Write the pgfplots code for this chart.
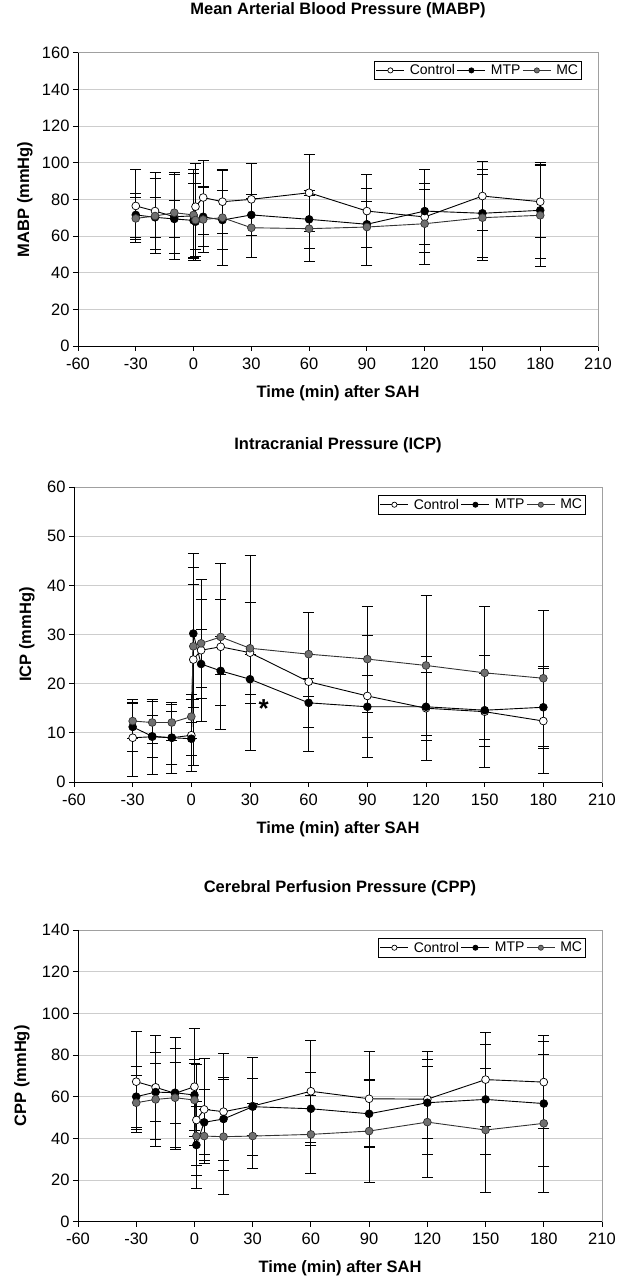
\documentclass[border=0pt]{standalone}
\usepackage{fontspec}
\setmainfont{Liberation Sans}
\usepackage{pgfplots}
\usepackage{pgfplotstable}
\pgfplotsset{compat=1.18}

\definecolor{mcgray}{RGB}{112,112,112}
\definecolor{gridgray}{RGB}{205,205,205}
\definecolor{boxgray}{RGB}{160,160,160}

% MABP
\pgfplotstableread{
t v e
-30 76.4 20
-20 73.6 21
-10 70.5 23
0 71 23
1 76 23.5
5 81 20
15 78.7 17.5
30 80 19.5
60 83.6 21
90 73.6 20
120 70.4 15
150 81.8 19
180 78.7 19.7
}\mabpctrl
\pgfplotstableread{
t v e
-30 71.5 12
-20 70.2 11
-10 69.3 10
0 68.5 20
1 67.8 21
5 70.5 16
15 68.7 16
30 71.5 11
60 69.1 16
90 66.4 12.5
120 73.6 22.5
150 72.4 24
180 74 26
}\mabpmtp
\pgfplotstableread{
t v e
-30 69.6 11.5
-20 70.9 20.5
-10 72.7 22
0 71.5 25
1 68.7 20
5 69 18
15 70 26
30 64.5 16
60 64 18
90 64.9 21
120 66.7 22
150 70 23.5
180 71.3 28
}\mabpmc
% ICP
\pgfplotstableread{
t v e
-30 9.0 7.8
-20 9.2 7.6
-10 9.0 7.2
0 9.5 7.4
1 24.9 21.5
5 26.8 14.5
15 27.5 16.9
30 26.3 19.8
60 20.4 14.1
90 17.5 12.4
120 15.0 10.6
150 14.3 11.4
180 12.4 10.7
}\icpctrl
\pgfplotstableread{
t v e
-30 11.2 4.9
-20 9.3 4.2
-10 9.0 5.4
0 8.8 3.4
1 30.2 13.5
5 24.0 7
15 22.6 7
30 20.9 5
60 16.1 4.9
90 15.3 6.3
120 15.3 6.9
150 14.6 7.4
180 15.2 8.3
}\icpmtp
\pgfplotstableread{
t v e
-30 12.4 3.5
-20 12.1 4.3
-10 12.1 3.6
0 13.3 4.5
1 27.6 12.5
5 28.2 9
15 29.5 7.7
30 27.2 9.4
60 26.0 8.5
90 25.0 10.8
120 23.7 14.2
150 22.2 13.6
180 21.1 13.8
}\icpmc
% CPP
\pgfplotstableread{
t v e
-30 67.2 24.2
-20 64.5 25
-10 61.6 27
0 64.8 28
1 48.8 26.5
5 53.9 24.4
15 52.8 28
30 55.5 23.5
60 62.6 24.4
90 59 22.8
120 58.8 19
150 68.2 22.7
180 67 22.3
}\cppctrl
\pgfplotstableread{
t v e
-30 60 14.6
-20 62.2 14
-10 61.9 14.5
0 60.8 17
1 36.8 21
5 47.7 15.6
15 49.3 20
30 55.2 13.7
60 54.2 17.6
90 51.8 16
120 57.1 24.8
150 58.7 26.5
180 56.7 30
}\cppmtp
\pgfplotstableread{
t v e
-30 57.1 13
-20 58.7 22.5
-10 59.5 23.7
0 58.4 17.6
1 41.1 14
5 41.1 13
15 40.8 27.5
30 41.1 15.5
60 41.9 18.6
90 43.5 24.7
120 47.8 26.5
150 44 29.7
180 47.2 33.3
}\cppmc

\pgfplotsset{
  panel/.style={
    scale only axis,
    anchor=south west,
    clip=false,
    xmin=-60, xmax=210,
    xtick={-60,-30,...,210},
    ymin=0,
    xtick pos=bottom, ytick pos=left,
    axis line style={boxgray, line width=0.8pt},
    tick align=outside,
    major tick length=5pt,
    tick style={black, line width=0.8pt},
    ymajorgrids,
    grid style={gridgray, line width=0.8pt},
    tick label style={font=\fontsize{16.5}{19}\selectfont},
    xticklabel style={yshift=-3pt},
    /pgf/number format/assume math mode=true,
    title style={font=\bfseries\fontsize{16.5}{19}\selectfont, at={(0.5,1)}, anchor=center, yshift=36pt},
    xlabel={Time (min) after SAH},
    xlabel style={font=\bfseries\fontsize{16.5}{19}\selectfont, at={(rel axis cs:0.5,0)}, anchor=center, yshift=-47pt},
    ylabel style={font=\bfseries\fontsize{16.5}{19}\selectfont, at={(rel axis cs:0,0.5)}, anchor=center},
    legend columns=3,
    legend style={at={(rel axis cs:1,1)}, anchor=north east, xshift=-16pt, yshift=-8pt,
      draw=black, line width=0.8pt, fill=white, inner sep=1.5pt,
      font=\fontsize{14}{15}\selectfont,
      /tikz/every odd column/.append style={column sep=3pt}},
    legend image code/.code={\draw[mark repeat=2,mark phase=2,#1] plot coordinates {(0pt,0pt) (14pt,0pt) (28pt,0pt)};},
    legend image post style={mark size=2.6pt},
    every axis plot/.append style={line width=0.9pt},
    error bars/y dir=both,
    error bars/y explicit,
    error bars/error bar style={black, line width=0.8pt},
    error bars/error mark options={rotate=90, black, mark size=5.5pt, line width=0.8pt},
  },
  ctrl/.style={black, mark=*, mark size=3.9pt, mark options={fill=white, draw=black, line width=0.7pt}},
  mtp/.style={black, mark=*, mark size=3.9pt, mark options={fill=black, draw=black, line width=0.7pt}},
  mc/.style={black!80, mark=*, mark size=3.9pt, mark options={fill=mcgray, draw=black!80, line width=0.7pt}},
}

\newcommand{\leftbottom}{\draw[black, line width=0.8pt] (rel axis cs:0,1) -- (rel axis cs:0,0) -- (rel axis cs:1,0);}

\begin{document}
\begin{tikzpicture}
\useasboundingbox (0,0) rectangle (620pt,1283pt);

% ---------- MABP ----------
\begin{axis}[panel, at={(78pt,937pt)}, width=520pt, height=293.3pt,
  ymax=160, ytick={0,20,...,160},
  title={Mean Arterial Blood Pressure (MABP)},
  ylabel={MABP (mmHg)}, ylabel style={yshift=53pt}]
\addplot[ctrl] table[x=t, y=v, y error=e] {\mabpctrl};
\addplot[mtp] table[x=t, y=v, y error=e] {\mabpmtp};
\addplot[mc] table[x=t, y=v, y error=e] {\mabpmc};
\leftbottom
\legend{Control,MTP,MC}
\end{axis}

% ---------- ICP ----------
\begin{axis}[panel, at={(74pt,501pt)}, width=528pt, height=295pt,
  ymax=60, ytick={0,10,...,60},
  title={Intracranial Pressure (ICP)},
  ylabel={ICP (mmHg)}, ylabel style={yshift=47pt}]
\addplot[ctrl] table[x=t, y=v, y error=e] {\icpctrl};
\addplot[mtp] table[x=t, y=v, y error=e] {\icpmtp};
\addplot[mc] table[x=t, y=v, y error=e] {\icpmc};
\leftbottom
\node[font=\bfseries\fontsize{26}{26}\selectfont] at (axis cs:37,15) {*};
\legend{Control,MTP,MC}
\end{axis}

% ---------- CPP ----------
\begin{axis}[panel, at={(78pt,61.3pt)}, width=524pt, height=291.7pt,
  ymax=140, ytick={0,20,...,140},
  title={Cerebral Perfusion Pressure (CPP)},
  ylabel={CPP (mmHg)}, ylabel style={yshift=56pt}]
\addplot[ctrl] table[x=t, y=v, y error=e] {\cppctrl};
\addplot[mtp] table[x=t, y=v, y error=e] {\cppmtp};
\addplot[mc] table[x=t, y=v, y error=e] {\cppmc};
\leftbottom
\legend{Control,MTP,MC}
\end{axis}
\end{tikzpicture}
\end{document}
